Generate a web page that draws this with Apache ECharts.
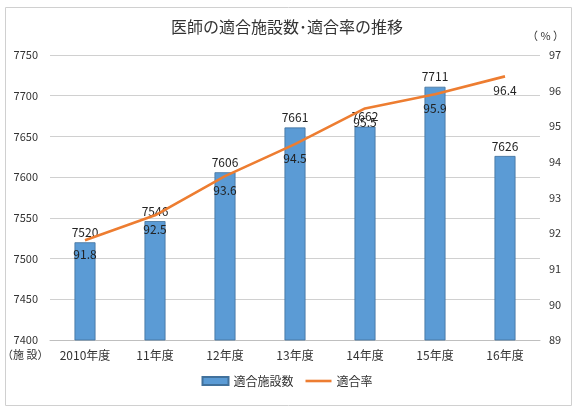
<!DOCTYPE html>
<html><head><meta charset="utf-8">
<script src="https://cdn.jsdelivr.net/npm/echarts@6/dist/echarts.min.js"></script>
<style>html,body{margin:0;padding:0;background:#fff}#c{width:574px;height:412px}</style>
</head><body><div id="c"></div>
<script>
const categories = ['2010年度','11年度','12年度','13年度','14年度','15年度','16年度'];
const facilities = [7520, 7546, 7606, 7661, 7662, 7711, 7626];
const rates = [91.8, 92.5, 93.6, 94.5, 95.5, 95.9, 96.4];
const leftTicks = {min: 7400, max: 7750, interval: 50};
const rightTicks = {min: 89, max: 97, interval: 1};

const FONT = '"Noto Sans CJK JP", "Noto Sans", sans-serif';
const chart = echarts.init(document.getElementById('c'));
chart.setOption({
  animation: false,
  textStyle: {fontFamily: FONT},
  title: {
    text: '医師の適合施設数･適合率の推移',
    left: 'center', top: 14,
    textStyle: {fontSize: 16, fontWeight: 'normal', color: '#333', fontFamily: FONT}
  },
  graphic: [
    {type: 'rect', shape: {x: 5.5, y: 7.5, width: 566, height: 398}, style: {fill: 'none', stroke: '#d0d0d0', lineWidth: 1}, silent: true},
    {type: 'text', left: 527, top: 30, style: {text: '（ % ）', fontSize: 11, fill: '#333', fontFamily: FONT}},
    {type: 'text', left: 2, top: 349, style: {text: '（施 設）', fontSize: 11, fill: '#333', fontFamily: FONT}}
  ],
  legend: {
    bottom: 20, left: 'center', itemGap: 12,
    itemWidth: 26, itemHeight: 8,
    textStyle: {fontSize: 12, color: '#333', fontFamily: FONT},
    data: [{name: '適合施設数', icon: 'rect'}, {name: '適合率', icon: 'path://M0,0H30V3H0Z'}]
  },
  grid: {left: 50, right: 34, top: 55, bottom: 72, containLabel: false},
  xAxis: {
    type: 'category', data: categories,
    axisLine: {lineStyle: {color: '#bfbfbf'}},
    axisTick: {show: false},
    axisLabel: {color: '#333', fontSize: 12, margin: 9}
  },
  yAxis: [
    {type: 'value', min: leftTicks.min, max: leftTicks.max, interval: leftTicks.interval,
     axisLine: {show: false}, axisTick: {show: false},
     axisLabel: {color: '#333', fontSize: 11, margin: 12, formatter: v => String(v)},
     splitLine: {lineStyle: {color: '#d0d0d0'}}},
    {type: 'value', min: rightTicks.min, max: rightTicks.max, interval: rightTicks.interval,
     axisLine: {show: false}, axisTick: {show: false},
     axisLabel: {color: '#333', fontSize: 11, margin: 9},
     splitLine: {show: false}}
  ],
  series: [
    {name: '適合施設数', type: 'bar', data: facilities, barWidth: 21,
     itemStyle: {color: '#5B9BD5', borderColor: '#41719C', borderWidth: 0.8},
     label: {show: true, position: 'top', color: '#222', fontSize: 12, distance: 4}},
    {name: '適合率', type: 'line', yAxisIndex: 1, data: rates,
     symbol: 'circle', symbolSize: 0.1, showSymbol: true,
     lineStyle: {color: '#ED7D31', width: 2.6}, itemStyle: {color: '#ED7D31'},
     label: {show: true, position: 'bottom', color: '#222', fontSize: 12, distance: 8,
             formatter: p => p.value.toFixed(1)}}
  ]
});
</script></body></html>
